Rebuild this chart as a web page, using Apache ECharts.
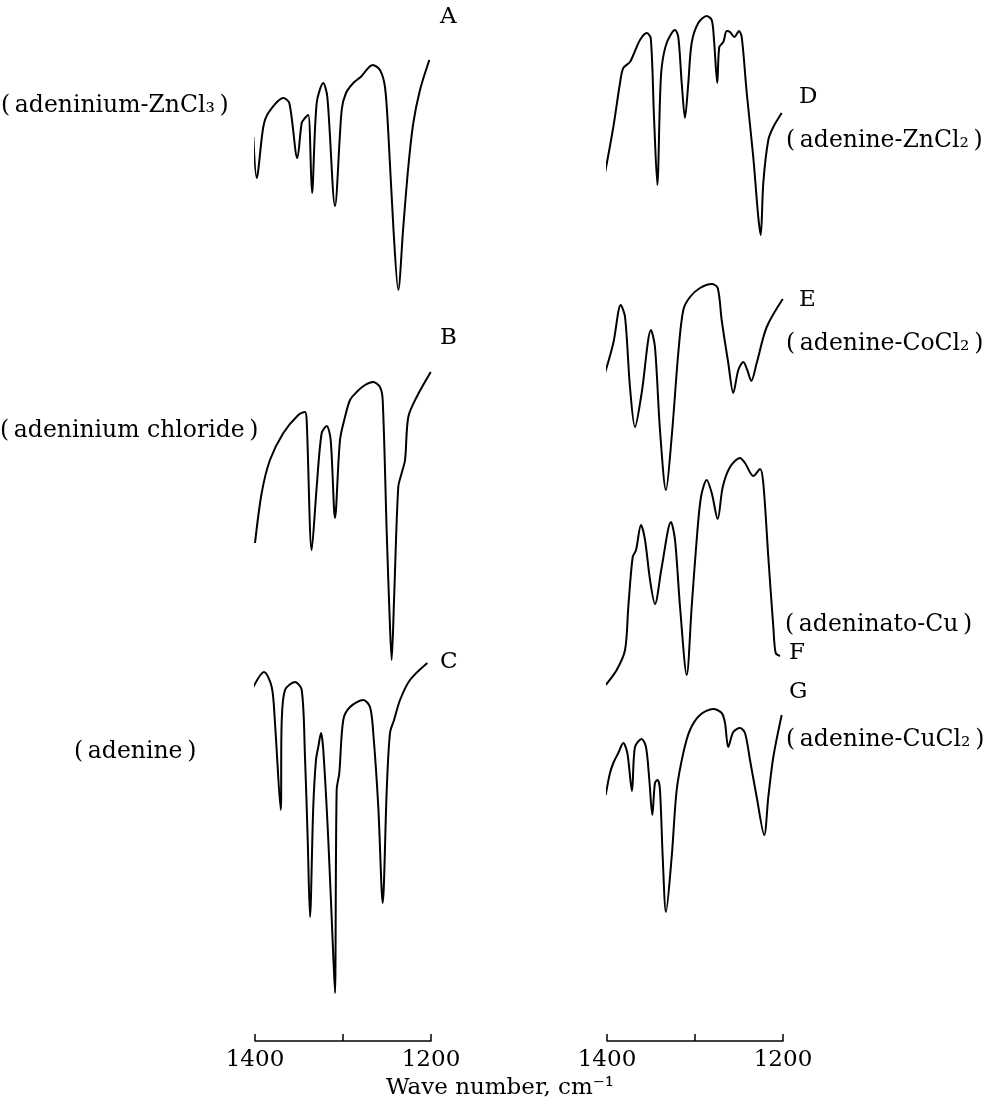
<!DOCTYPE html>
<html>
<head>
<meta charset="utf-8">
<script src="https://cdn.jsdelivr.net/npm/echarts@6/dist/echarts.min.js"></script>
<style>html,body{margin:0;padding:0;background:#fff}#c{width:991px;height:1110px}</style>
</head>
<body>
<div id="c"></div>
<script>
// Tick labels
const tickLabels = [1400, 1300, 1200];
const shownTicks = [1400, 1200];

// Spectrum names
const leftNames = ['A', 'B', 'C'];
const leftCompounds = ['(\u2009adeninium-ZnCl\u2083\u2009)', '(\u2009adeninium chloride\u2009)', '(\u2009adenine\u2009)'];
const rightNames = ['D', 'E', 'F', 'G'];
const rightCompounds = ['(\u2009adenine-ZnCl\u2082\u2009)', '(\u2009adenine-CoCl\u2082\u2009)', '(\u2009adeninato-Cu\u2009)', '(\u2009adenine-CuCl\u2082\u2009)'];
const axisTitle = 'Wave number, cm\u207B\u00B9';

// Spectra: [wave number (cm-1), transmittance (arbitrary offset units)]
const curveA = [[1401.9,90.4],[1398.1,86.3],[1390.6,91.4],[1384.9,92.8],[1367.8,94.3],[1361.0,93.8],[1351.9,88.3],[1346.9,91.8],[1343.2,92.3],[1339.4,92.6],[1335.2,84.8],[1329.9,93.8],[1322.4,95.8],[1317.8,94.4],[1309.1,83.5],[1301.5,93.1],[1296.6,94.8],[1288.3,95.8],[1279.9,96.4],[1266.3,97.6],[1258.0,97.1],[1252.3,95.4],[1248.5,90.8],[1242.8,81.4],[1237.2,75.1],[1231.5,81.4],[1225.8,87.4],[1220.1,91.8],[1212.5,95.1],[1201.9,98.1]];
const curveB = [[1400.0,49.8],[1392.4,54.8],[1383.0,58.1],[1367.8,60.8],[1350.8,62.6],[1343.2,62.9],[1341.3,62.1],[1335.6,49.1],[1329.9,55.4],[1324.2,60.8],[1318.5,61.5],[1314.0,60.1],[1309.1,52.3],[1303.4,60.1],[1297.7,62.4],[1292.0,64.1],[1284.4,64.9],[1275.0,65.6],[1265.6,65.9],[1258.0,65.4],[1254.9,64.1],[1250.3,50.8],[1246.6,41.4],[1244.7,38.1],[1242.0,44.1],[1237.2,55.4],[1233.3,56.8],[1229.5,58.1],[1225.8,62.4],[1216.3,64.4],[1200.3,66.9]];
const curveC = [[1401.9,35.4],[1389.8,36.9],[1381.0,35.4],[1377.3,31.8],[1370.8,23.1],[1369.7,31.8],[1365.9,35.1],[1354.5,35.9],[1346.9,35.1],[1343.2,28.4],[1340.1,20.1],[1337.5,12.4],[1333.8,23.4],[1330.7,28.1],[1328.1,29.4],[1325.0,30.8],[1322.4,29.1],[1316.7,20.1],[1311.0,8.4],[1309.1,4.8],[1307.2,25.1],[1304.2,26.8],[1299.7,32.1],[1292.0,33.4],[1276.9,34.1],[1269.3,33.4],[1265.6,30.8],[1259.9,23.4],[1254.9,13.8],[1250.3,25.1],[1246.6,30.8],[1242.0,32.1],[1235.2,34.1],[1223.9,36.1],[1204.2,37.8]];
const curveD = [[1402.3,86.8],[1392.8,91.4],[1385.2,95.8],[1381.5,97.3],[1373.9,97.9],[1370.1,98.6],[1362.5,100.1],[1354.9,100.8],[1350.3,100.3],[1346.6,92.4],[1342.8,85.6],[1339.8,94.1],[1337.8,97.4],[1332.2,99.8],[1322.7,101.1],[1319.0,100.4],[1315.1,95.8],[1311.4,92.3],[1307.6,95.8],[1303.8,99.8],[1296.3,101.8],[1286.7,102.5],[1281.0,102.1],[1278.4,100.1],[1274.7,95.8],[1272.4,99.4],[1267.8,99.9],[1264.0,101.0],[1260.2,100.9],[1255.3,100.4],[1250.0,101.0],[1246.9,100.4],[1241.2,94.8],[1233.8,88.4],[1228.1,82.4],[1225.3,80.6],[1222.4,85.8],[1216.7,90.1],[1211.0,91.4],[1201.5,92.8]];
const curveE = [[1402.3,66.8],[1392.8,69.8],[1384.4,73.6],[1379.5,72.4],[1373.9,65.4],[1368.2,61.4],[1360.6,64.8],[1350.0,71.1],[1345.5,69.4],[1339.8,61.1],[1333.0,55.1],[1326.5,60.4],[1319.0,68.8],[1313.3,73.1],[1305.7,74.4],[1294.3,75.3],[1281.0,75.7],[1274.2,75.3],[1269.7,72.1],[1262.2,67.8],[1256.5,64.8],[1250.8,67.1],[1245.1,67.9],[1240.6,67.1],[1236.0,66.0],[1229.9,67.8],[1218.5,71.4],[1200.3,74.2]];
const curveF = [[1401.5,35.6],[1389.0,37.1],[1379.5,39.1],[1375.8,43.4],[1370.8,48.4],[1367.0,49.1],[1361.4,51.6],[1356.8,50.1],[1351.1,46.1],[1345.5,43.7],[1337.8,47.4],[1327.3,51.9],[1322.7,50.1],[1317.0,43.4],[1309.4,36.6],[1303.8,43.4],[1298.1,50.1],[1293.2,54.4],[1286.7,56.1],[1281.0,54.8],[1274.2,52.2],[1268.5,55.4],[1260.2,57.4],[1248.9,58.3],[1243.2,57.8],[1233.8,56.5],[1226.1,57.2],[1222.4,55.8],[1216.7,48.4],[1211.0,41.4],[1208.3,38.8],[1203.4,38.5]];
const curveG = [[1401.5,24.6],[1396.6,26.8],[1392.8,27.8],[1387.2,28.8],[1381.5,29.8],[1376.9,28.8],[1371.6,25.0],[1368.2,29.4],[1360.6,30.2],[1355.7,29.4],[1351.9,26.1],[1348.5,22.6],[1345.5,25.8],[1342.4,26.1],[1339.8,25.1],[1336.7,18.4],[1333.0,12.9],[1326.5,18.4],[1320.8,25.1],[1313.3,28.8],[1305.7,31.1],[1294.3,32.6],[1279.2,33.2],[1269.7,32.8],[1265.9,31.8],[1262.2,29.4],[1256.5,30.9],[1248.9,31.3],[1243.2,30.8],[1237.5,28.1],[1229.9,24.4],[1221.3,20.6],[1216.7,24.4],[1211.0,28.4],[1201.5,32.6]];

const FONT = '"DejaVu Serif", "Liberation Serif", serif';
const chart = echarts.init(document.getElementById('c'), null, {renderer: 'canvas'});

function xAxisDef(gi) {
  return {
    gridIndex: gi, type: 'value', min: tickLabels[2], max: tickLabels[0], interval: 100, inverse: true,
    axisLine: {show: true, lineStyle: {color: '#000', width: 1.5}},
    axisTick: {show: true, inside: true, length: 7, lineStyle: {color: '#000', width: 1.5}},
    axisLabel: {show: true, margin: 8, color: '#000', fontFamily: FONT, fontSize: 23,
      formatter: v => shownTicks.indexOf(v) >= 0 ? String(v) : ''},
    splitLine: {show: false}
  };
}
function yAxisDef(gi) {
  return {gridIndex: gi, type: 'value', min: 0, max: 104.1, show: false, splitLine: {show: false}};
}
function lineSeries(data, gi) {
  return {type: 'line', xAxisIndex: gi, yAxisIndex: gi, data: data, showSymbol: false, smooth: 0.3,
    clip: false, lineStyle: {color: '#000', width: 2}, animation: false};
}
function txt(x, y, text, size, align) {
  return {type: 'text', x: x, y: y, style: {x: 0, y: 0, text: text, fill: '#000', font: size + 'px ' + FONT,
    align: align || 'left', verticalAlign: 'middle'}};
}

const NAME = 23, CMP = 23.5;
const graphics = [
  txt(440, 17, leftNames[0], NAME), txt(440, 338, leftNames[1], NAME), txt(440, 662, leftNames[2], NAME),
  txt(1, 106, leftCompounds[0], CMP), txt(0, 431, leftCompounds[1], CMP), txt(74, 752, leftCompounds[2], CMP),
  txt(799, 97, rightNames[0], NAME), txt(786, 141, rightCompounds[0], CMP),
  txt(799, 300, rightNames[1], NAME), txt(786, 344, rightCompounds[1], CMP),
  txt(785, 625, rightCompounds[2], CMP), txt(789, 653, rightNames[2], NAME),
  txt(789, 692, rightNames[3], NAME), txt(786, 740, rightCompounds[3], CMP),
  txt(500, 1088, axisTitle, 23, 'center')
];

chart.setOption({
  animation: false,
  backgroundColor: '#fff',
  grid: [
    {left: 255, width: 176, top: 0, height: 1041},
    {left: 607, width: 176, top: 0, height: 1041}
  ],
  xAxis: [xAxisDef(0), xAxisDef(1)],
  yAxis: [yAxisDef(0), yAxisDef(1)],
  series: [
    lineSeries(curveA, 0), lineSeries(curveB, 0), lineSeries(curveC, 0),
    lineSeries(curveD, 1), lineSeries(curveE, 1), lineSeries(curveF, 1), lineSeries(curveG, 1)
  ],
  graphic: graphics
});
</script>
</body>
</html>
